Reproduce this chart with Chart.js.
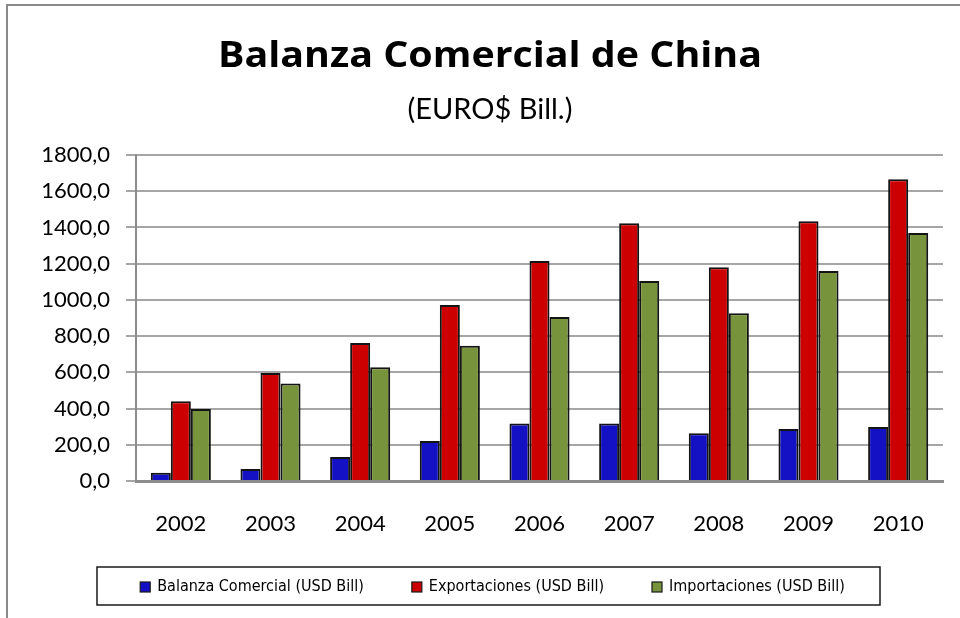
<!DOCTYPE html>
<html>
<head>
<meta charset="utf-8">
<script src="https://cdn.jsdelivr.net/npm/chart.js@4"></script>
<style>
  body { margin: 0; background: #fff; }
  canvas { display: block; }
</style>
</head>
<body>
<canvas id="chinaChart" width="960" height="618"></canvas>
<script>
// Datos
const years = ["2002", "2003", "2004", "2005", "2006", "2007", "2008", "2009", "2010"];
const balanza = [45, 66, 133, 221, 318, 318, 263, 287, 298];
const exportaciones = [440, 596, 762, 972, 1215, 1423, 1180, 1434, 1666];
const importaciones = [398, 539, 628, 747, 906, 1104, 926, 1160, 1369];
const seriesNames = ["Balanza Comercial (USD Bill)", "Exportaciones (USD Bill)", "Importaciones (USD Bill)"];
const seriesColors = ["#1410c4", "#cc0000", "#77933c"];
const yMin = 0, yMax = 1800, yStep = 200;

const titleText = "Balanza Comercial de China";
const subtitleText = "(EURO$ Bill.)";

// Marco, titulo y leyenda dibujados a mano
const decorPlugin = {
    id: "decor",
    afterDraw(chart) {
        const ctx = chart.ctx;
        ctx.save();
        // marco gris (arriba e izquierda)
        ctx.strokeStyle = "#8a8a8a";
        ctx.lineWidth = 2;
        ctx.beginPath();
        ctx.moveTo(7, 618);
        ctx.lineTo(7, 5);
        ctx.lineTo(960, 5);
        ctx.stroke();

        // titulo (un poco ensanchado, como el original)
        ctx.fillStyle = "#000";
        ctx.textAlign = "center";
        ctx.textBaseline = "alphabetic";
        ctx.font = "bold 35px 'Open Sans'";
        const tw = ctx.measureText(titleText).width;
        ctx.save();
        ctx.translate(490, 67);
        ctx.scale(544 / tw, 1);
        ctx.fillText(titleText, 0, 0);
        ctx.restore();
        ctx.font = "29px Lato";
        ctx.fillText(subtitleText, 490, 119);

        // leyenda
        const box = { left: 97, right: 880, top: 567, bottom: 605 };
        ctx.strokeStyle = "#1a1a1a";
        ctx.lineWidth = 1.5;
        ctx.strokeRect(box.left, box.top, box.right - box.left, box.bottom - box.top);
        ctx.font = "16px 'DejaVu Sans Condensed', Roboto";
        ctx.textAlign = "left";
        ctx.textBaseline = "middle";
        const gap = 48, mark = 10, markGap = 7;
        const widths = chart.data.datasets.map(d => mark + markGap + ctx.measureText(d.label).width);
        const total = widths.reduce((a, b) => a + b, 0) + gap * (widths.length - 1);
        let x = (box.left + box.right) / 2 - total / 2 + 4;
        const cy = (box.top + box.bottom) / 2 + 1;
        chart.data.datasets.forEach((d, i) => {
            ctx.fillStyle = d.backgroundColor;
            ctx.fillRect(x, cy - mark / 2, mark, mark);
            ctx.strokeStyle = "#1a1a1a";
            ctx.lineWidth = 1.2;
            ctx.strokeRect(x, cy - mark / 2, mark, mark);
            ctx.fillStyle = "#000";
            ctx.fillText(d.label, x + mark + markGap, cy);
            x += widths[i] + gap;
        });
        ctx.restore();
    }
};

const seriesData = [balanza, exportaciones, importaciones];

new Chart(document.getElementById("chinaChart"), {
    type: "bar",
    data: {
        labels: years,
        datasets: seriesData.map((vals, i) => ({
            label: seriesNames[i],
            data: vals,
            backgroundColor: seriesColors[i],
            borderColor: "#141414",
            borderWidth: 2,
            categoryPercentage: 0.67,
            barPercentage: 1.0
        }))
    },
    options: {
        responsive: false,
        animation: false,
        devicePixelRatio: 1,
        layout: { padding: { left: 0, right: 17, top: 155, bottom: 0 } },
        plugins: {
            legend: { display: false },
            title: { display: false },
            tooltip: { enabled: false }
        },
        scales: {
            x: {
                grid: { display: false, drawTicks: false },
                border: { display: true, color: "#8c8c8c", width: 3 },
                ticks: {
                    color: "#000",
                    padding: 30,
                    maxRotation: 0,
                    font: { family: "Lato", size: 22 }
                },
                afterFit(scale) { scale.height = 137; }
            },
            y: {
                min: yMin,
                max: yMax,
                grid: { color: "#a6a6a6", lineWidth: 2, tickLength: 10 },
                border: { display: true, color: "#8c8c8c", width: 2 },
                ticks: {
                    stepSize: yStep,
                    color: "#000",
                    padding: 16,
                    font: { family: "Lato", size: 22 },
                    callback: v => v.toFixed(1).replace(".", ",")
                },
                afterFit(scale) { scale.width = 136; }
            }
        }
    },
    plugins: [decorPlugin]
});
</script>
</body>
</html>
